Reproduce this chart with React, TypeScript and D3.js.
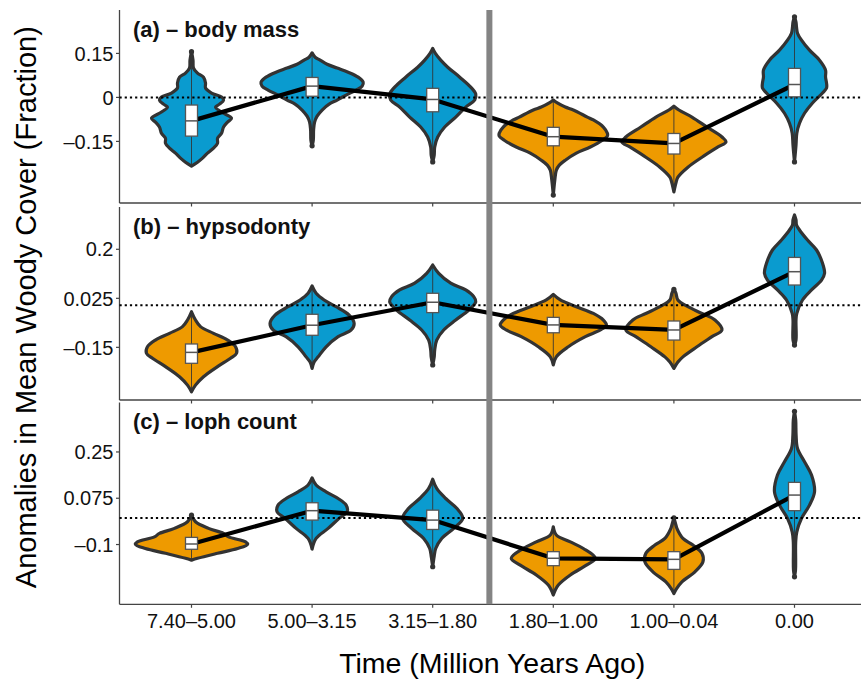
import React from "react";
import * as d3 from "d3";

// categories / colours
const categories = ["7.40–5.00", "5.00–3.15", "3.15–1.80", "1.80–1.00", "1.00–0.04", "0.00"];
const groupA = ["blue", "blue", "blue", "orange", "orange", "blue"];
const groupB = ["orange", "blue", "blue", "orange", "orange", "blue"];
const groupC = ["orange", "blue", "blue", "orange", "orange", "blue"];

// (a) body mass
const medianA = [-0.08, 0.0385, -0.007, -0.134, -0.157, 0.044];
const boxA = [[-0.132, -0.026], [0.004, 0.068], [-0.049, 0.031], [-0.165, -0.102], [-0.193, -0.123], [0.002, 0.099]];
const outlierA = [[0.156], [-0.165], [-0.22], [-0.333], [], [0.275, -0.22]];
const violinA = [
  [[0.156, 0], [0.127, 1.5], [0.1, 2], [0.083, 6], [0.069, 12], [0.049, 14], [0.032, 14], [0.015, 20], [0.001, 30], [-0.009, 32], [-0.023, 28], [-0.033, 24], [-0.05, 30], [-0.071, 40], [-0.084, 36], [-0.101, 32], [-0.122, 30], [-0.139, 26], [-0.156, 26], [-0.173, 22], [-0.19, 16], [-0.207, 11], [-0.221, 6], [-0.234, 0]],
  [[0.152, 0], [0.137, 3], [0.127, 8], [0.113, 15], [0.1, 25], [0.086, 36], [0.069, 46], [0.052, 51], [0.0385, 50], [0.025, 44], [0.008, 34], [-0.009, 25], [-0.023, 17], [-0.043, 10], [-0.064, 5], [-0.084, 2.5], [-0.111, 1.5], [-0.146, 1.2], [-0.165, 0]],
  [[0.167, 0], [0.151, 2.5], [0.127, 8], [0.103, 15], [0.069, 27], [0.035, 38], [0.011, 43], [-0.009, 42], [-0.033, 33], [-0.067, 23], [-0.101, 12], [-0.135, 5], [-0.169, 2], [-0.197, 1.5], [-0.22, 0]],
  [[-0.009, 0], [-0.019, 4], [-0.033, 12], [-0.043, 20], [-0.067, 34], [-0.077, 40], [-0.101, 50], [-0.122, 54], [-0.132, 54], [-0.146, 49], [-0.169, 37], [-0.19, 23], [-0.214, 12], [-0.231, 6], [-0.248, 3], [-0.282, 1.5], [-0.333, 0]],
  [[-0.03, 0], [-0.043, 5], [-0.067, 18], [-0.101, 33], [-0.135, 48], [-0.152, 52], [-0.169, 44], [-0.204, 28], [-0.238, 14], [-0.272, 4], [-0.292, 2], [-0.322, 0]],
  [[0.275, 0], [0.257, 1.5], [0.24, 2], [0.219, 3], [0.195, 7], [0.161, 15], [0.127, 25], [0.093, 31], [0.069, 31], [0.049, 32], [0.032, 32], [0.015, 28], [-0.019, 18], [-0.054, 10], [-0.088, 5], [-0.122, 2.3], [-0.163, 1.5], [-0.22, 0]],
];

// (b) hypsodonty
const medianB = [-0.168, -0.071, 0.011, -0.07, -0.088, 0.12];
const boxB = [[-0.207, -0.138], [-0.107, -0.032], [-0.026, 0.043], [-0.098, -0.043], [-0.124, -0.056], [0.0725, 0.171]];
const outlierB = [[], [], [-0.213], [], [0.057], [-0.142]];
const violinB = [
  [[-0.023, 0], [-0.0525, 4], [-0.076, 9], [-0.1, 22], [-0.124, 36], [-0.148, 44], [-0.171, 45], [-0.189, 39], [-0.219, 26], [-0.255, 12], [-0.285, 4], [-0.309, 0]],
  [[0.069, 0], [0.043, 4], [0.019, 12], [-0.005, 24], [-0.035, 37], [-0.064, 42], [-0.088, 39], [-0.112, 26], [-0.148, 14], [-0.184, 6], [-0.2025, 2], [-0.225, 0]],
  [[0.144, 0], [0.114, 6], [0.079, 18], [0.055, 33], [0.031, 41], [0.013, 43], [-0.017, 36], [-0.0525, 23], [-0.088, 11], [-0.124, 4], [-0.16, 2], [-0.185, 1.5], [-0.213, 0]],
  [[0.039, 0], [0.019, 7], [-0.005, 23], [-0.029, 40], [-0.0525, 50], [-0.07, 53], [-0.088, 47], [-0.112, 32], [-0.148, 15], [-0.184, 3], [-0.213, 0]],
  [[0.057, 0], [0.044, 2], [0.019, 4], [-0.005, 14], [-0.029, 28], [-0.0525, 41], [-0.088, 48], [-0.112, 38], [-0.148, 23], [-0.184, 9], [-0.2025, 4], [-0.225, 0]],
  [[0.3225, 0], [0.305, 1.5], [0.287, 2], [0.269, 5], [0.233, 13], [0.1975, 22], [0.15, 28], [0.114, 30], [0.09, 27], [0.055, 17], [0.019, 8], [-0.029, 2.3], [-0.0525, 1.5], [-0.124, 1.5], [-0.142, 0]],
];

// (c) loph count
const medianC = [-0.098, 0.028, -0.0076, -0.152, -0.156, 0.087];
const boxC = [[-0.118, -0.073], [-0.0076, 0.058], [-0.043, 0.03], [-0.18, -0.127], [-0.194, -0.127], [0.028, 0.135]];
const outlierC = [[0.011], [], [-0.184], [], [0.001], [0.404, -0.222]];
const violinC = [
  [[0.011, 0], [-0.014, 4], [-0.039, 17], [-0.058, 32], [-0.071, 37], [-0.09, 54], [-0.099, 56], [-0.115, 46], [-0.133, 26], [-0.152, 6], [-0.159, 0]],
  [[0.152, 0], [0.125, 4], [0.099, 14], [0.074, 26], [0.049, 34], [0.024, 35], [-0.001, 27], [-0.039, 16], [-0.077, 4], [-0.117, 0]],
  [[0.147, 0], [0.112, 4], [0.074, 13], [0.037, 24], [-0.001, 30], [-0.039, 21], [-0.077, 9], [-0.115, 3], [-0.144, 1.5], [-0.184, 0]],
  [[-0.033, 0], [-0.064, 3], [-0.09, 17], [-0.115, 30], [-0.152, 42], [-0.178, 33], [-0.215, 17], [-0.253, 5], [-0.272, 2], [-0.291, 0]],
  [[0.001, 0], [-0.026, 2], [-0.039, 3], [-0.077, 9], [-0.102, 19], [-0.133, 28], [-0.165, 29], [-0.203, 21], [-0.241, 8], [-0.265, 3], [-0.285, 0]],
  [[0.404, 0], [0.37, 1.2], [0.314, 1.6], [0.263, 3], [0.213, 10], [0.163, 17], [0.099, 20], [0.049, 15], [-0.001, 7], [-0.052, 2.3], [-0.09, 1.2], [-0.197, 1], [-0.222, 0]],
];

const yTicksA = [0.15, 0, -0.15];
const yTicksB = [0.2, 0.025, -0.15];
const yTicksC = [0.25, 0.075, -0.1];
const yLabelsA = ["0.15", "0", "–0.15"];
const yLabelsB = ["0.2", "0.025", "–0.15"];
const yLabelsC = ["0.25", "0.075", "–0.1"];

const panels = [
  { label: "(a) – body mass", domain: [-0.36, 0.298], top: 10, bottom: 203, groups: groupA, medians: medianA, boxes: boxA, outliers: outlierA, violins: violinA, ticks: yTicksA, tickLabels: yLabelsA },
  { label: "(b) – hypsodonty", domain: [-0.338, 0.351], top: 207, bottom: 400, groups: groupB, medians: medianB, boxes: boxB, outliers: outlierB, violins: violinB, ticks: yTicksB, tickLabels: yLabelsB },
  { label: "(c) – loph count", domain: [-0.326, 0.437], top: 402.5, bottom: 604.3, groups: groupC, medians: medianC, boxes: boxC, outliers: outlierC, violins: violinC, ticks: yTicksC, tickLabels: yLabelsC },
];

const W = 861, H = 685;
const left = 119.5, right = 861;
const colors = { blue: "#0a9bcf", orange: "#ee9a00" };
const font = "'Liberation Sans', Arial, Helvetica, sans-serif";

export default function App() {
  const x = d3.scalePoint().domain(categories).range([191.5, 794.5]);
  const xi = d3.scaleLinear().domain([1, categories.length]).range([191.5, 794.5]);
  const halfW = d3.scaleLinear().domain([0, 56]).range([0, x.step() * 0.465]);
  const boxHalf = 6;

  return (
    <svg width={W} height={H} style={{ display: "block", position: "absolute", left: 0, top: 0, background: "#fff" }}>
      {panels.map((p, pi) => {
        const y = d3.scaleLinear().domain(p.domain).range([p.bottom, p.top]);
        const line = d3.line().x((d) => d[0]).y((d) => d[1]);
        const medPts = p.medians.map((m, i) => [x(categories[i]), y(m)]);
        return (
          <g key={pi}>
            {/* axes */}
            <line x1={left} x2={left} y1={p.top} y2={p.bottom} stroke="#444" strokeWidth={1.3} />
            <line x1={left} x2={right} y1={p.bottom} y2={p.bottom} stroke="#444" strokeWidth={1.3} />
            {categories.map((c) => (
              <line key={c} x1={x(c)} x2={x(c)} y1={p.bottom} y2={p.bottom + 3.5} stroke="#444" strokeWidth={1.2} />
            ))}
            {p.ticks.map((t, i) => (
              <g key={i}>
                <line x1={left - 3.5} x2={left} y1={y(t)} y2={y(t)} stroke="#444" strokeWidth={1.2} />
                <text x={left - 6} y={y(t)} dy="0.36em" textAnchor="end" fontFamily={font} fontSize={20} fill="#111">
                  {p.tickLabels[i]}
                </text>
              </g>
            ))}
            {/* violins */}
            {p.violins.map((v, i) => {
              const cx = x(categories[i]);
              const area = d3
                .area()
                .y((d) => y(d[0]))
                .x0((d) => cx - halfW(d[1]))
                .x1((d) => cx + halfW(d[1]))
                .curve(d3.curveCatmullRom.alpha(0.5));
              const vmax = v[0][0], vmin = v[v.length - 1][0];
              return (
                <g key={i}>
                  <path d={area(v)} fill={colors[p.groups[i]]} stroke="#333" strokeWidth={3.2} strokeLinejoin="round" />
                  <line x1={cx} x2={cx} y1={y(vmax)} y2={y(vmin)} stroke="#333" strokeWidth={1} opacity={0.85} />
                  {p.outliers[i].map((o, k) => (
                    <circle key={k} cx={cx} cy={y(o)} r={2.6} fill="#333" />
                  ))}
                </g>
              );
            })}
            {/* zero reference */}
            <line x1={left} x2={right} y1={y(0)} y2={y(0)} stroke="#000" strokeWidth={2} strokeDasharray="2.2,3" />
            {/* median trend */}
            <path d={line(medPts)} fill="none" stroke="#000" strokeWidth={4.2} strokeLinejoin="round" />
            {/* boxes */}
            {p.boxes.map((b, i) => {
              const cx = x(categories[i]);
              return (
                <g key={i}>
                  <rect x={cx - boxHalf} y={y(b[1])} width={boxHalf * 2} height={y(b[0]) - y(b[1])} fill="#fff" stroke="#555" strokeWidth={1.3} />
                  <line x1={cx - boxHalf} x2={cx + boxHalf} y1={y(p.medians[i])} y2={y(p.medians[i])} stroke="#555" strokeWidth={1.5} />
                </g>
              );
            })}
            <text x={133} y={p.top + 26.5} fontFamily={font} fontWeight="bold" fontSize={22} fill="#111">
              {p.label}
            </text>
          </g>
        );
      })}
      {/* period divider */}
      <line x1={xi(3.47)} x2={xi(3.47)} y1={panels[0].top} y2={panels[2].bottom} stroke="#848484" strokeWidth={6} />
      {categories.map((c) => (
        <text key={c} x={x(c)} y={628} textAnchor="middle" fontFamily={font} fontSize={20} fill="#111">
          {c}
        </text>
      ))}
      <text x={(left + 865) / 2} y={673} textAnchor="middle" fontFamily={font} fontSize={28.5} fill="#000">
        Time (Million Years Ago)
      </text>
      <text transform={`translate(36,${(panels[0].top + panels[2].bottom) / 2}) rotate(-90)`} textAnchor="middle" fontFamily={font} fontSize={29} fill="#000">
        Anomalies in Mean Woody Cover (Fraction)
      </text>
    </svg>
  );
}
